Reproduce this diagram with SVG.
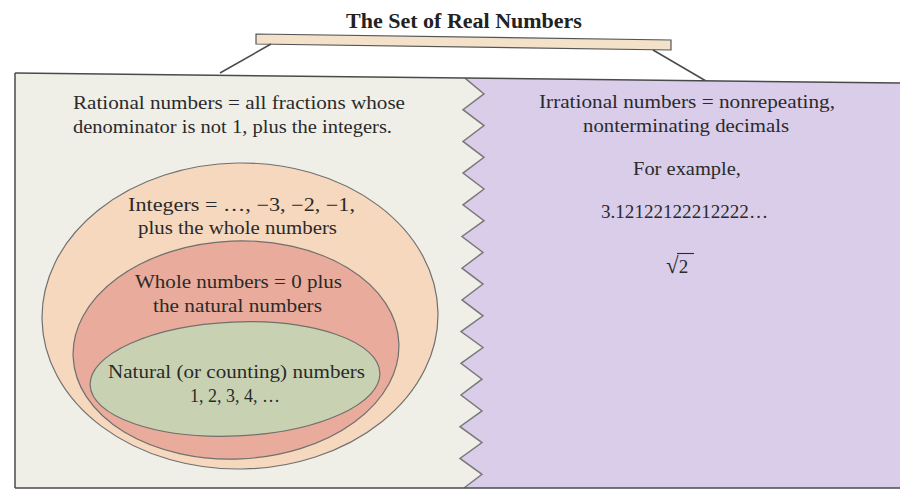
<svg xmlns="http://www.w3.org/2000/svg" width="900" height="493" viewBox="0 0 900 493">
<style>
  text { font-family: "Liberation Serif", "Times New Roman", serif; fill: #2a2a2a; }
  .t { font-size: 18px; }
  .title { font-size: 22px; font-weight: bold; fill: #222; }
  .ell { stroke: #707070; stroke-width: 1.2; }
  .edge { stroke: #4a4a4a; stroke-width: 1.5; fill: none; }
  .zig { stroke: #7a7a7a; stroke-width: 1.5; fill: none; stroke-linejoin: miter; }
</style>
<rect x="0" y="0" width="900" height="493" fill="#ffffff"/>

<g id="title">
  <text class="title" x="464" y="28" text-anchor="middle">The Set of Real Numbers</text>
  <polygon points="256,34 671,40 671,50 256,44" fill="#f3e1c9" stroke="#555" stroke-width="1.2"/>
</g>

<g id="connectors">
  <line class="edge" x1="271" y1="44" x2="220" y2="73"/>
  <line class="edge" x1="653" y1="50" x2="706" y2="81"/>
</g>

<g id="rational">
  <polygon fill="#efefe8" points="15,73 465,78.1 484,93.9 463,109.7 484,125.6 463,141.4 484,157.3 463,173.1 484,189 463,204.8 484,220.7 462,236.5 483,252.4 462,268.2 483,284.1 462,299.9 483,315.8 461,331.6 483,347.5 461,363.3 482,379.2 461,395 482,410.9 460,426.7 482,442.6 460,458.4 482,474.3 464,488 15,488"/>
  <text class="t" x="73" y="109" textLength="332" lengthAdjust="spacingAndGlyphs">Rational numbers = all fractions whose</text>
  <text class="t" x="73" y="133" textLength="319" lengthAdjust="spacingAndGlyphs">denominator is not 1, plus the integers.</text>
</g>

<g id="irrational">
  <polygon fill="#d9cdea" points="900,83 900,488 464,488 482,474.3 460,458.4 482,442.6 460,426.7 482,410.9 461,395 482,379.2 461,363.3 483,347.5 461,331.6 483,315.8 462,299.9 483,284.1 462,268.2 483,252.4 462,236.5 484,220.7 463,204.8 484,189 463,173.1 484,157.3 463,141.4 484,125.6 463,109.7 484,93.9 465,78.1"/>
  <text class="t" x="539" y="108" textLength="296" lengthAdjust="spacingAndGlyphs">Irrational numbers = nonrepeating,</text>
  <text class="t" x="583" y="132" textLength="206" lengthAdjust="spacingAndGlyphs">nonterminating decimals</text>
  <text class="t" x="633" y="175" textLength="108" lengthAdjust="spacingAndGlyphs">For example,</text>
  <text class="t" x="601" y="218" textLength="167" lengthAdjust="spacingAndGlyphs">3.12122122212222…</text>
  <text x="666" y="273" font-size="23">√<tspan font-size="19">2</tspan></text>
  <line x1="677" y1="253.5" x2="694" y2="253.5" stroke="#2a2a2a" stroke-width="1.1"/>
</g>

<g id="box-outline">
  <polyline class="zig" points="465,78.1 484,93.9 463,109.7 484,125.6 463,141.4 484,157.3 463,173.1 484,189 463,204.8 484,220.7 462,236.5 483,252.4 462,268.2 483,284.1 462,299.9 483,315.8 461,331.6 483,347.5 461,363.3 482,379.2 461,395 482,410.9 460,426.7 482,442.6 460,458.4 482,474.3 464,488"/>
  <line class="edge" x1="15" y1="73" x2="900" y2="83"/>
  <line class="edge" x1="15" y1="488" x2="900" y2="488"/>
  <line class="edge" x1="15" y1="73" x2="15" y2="488" stroke-width="1"/>
</g>

<g id="integers">
  <ellipse class="ell" cx="240" cy="316" rx="198" ry="153" fill="#f5d8bd" transform="rotate(-1 240 316)"/>
  <text class="t" x="128" y="211" textLength="227" lengthAdjust="spacingAndGlyphs">Integers = …, −3, −2, −1,</text>
  <text class="t" x="138" y="234" textLength="199" lengthAdjust="spacingAndGlyphs">plus the whole numbers</text>
</g>

<g id="whole">
  <ellipse class="ell" cx="236" cy="350" rx="163" ry="109" fill="#e9ab9b" transform="rotate(-2.5 236 350)"/>
  <text class="t" x="135" y="288" textLength="207" lengthAdjust="spacingAndGlyphs">Whole numbers = 0 plus</text>
  <text class="t" x="153" y="312" textLength="169" lengthAdjust="spacingAndGlyphs">the natural numbers</text>
</g>

<g id="natural">
  <ellipse class="ell" cx="235" cy="379" rx="145" ry="57" fill="#c8d2b2" transform="rotate(-2.5 235 379)"/>
  <text class="t" x="108" y="378" textLength="257" lengthAdjust="spacingAndGlyphs">Natural (or counting) numbers</text>
  <text class="t" x="190" y="402" textLength="90" lengthAdjust="spacingAndGlyphs">1, 2, 3, 4, …</text>
</g>
</svg>
